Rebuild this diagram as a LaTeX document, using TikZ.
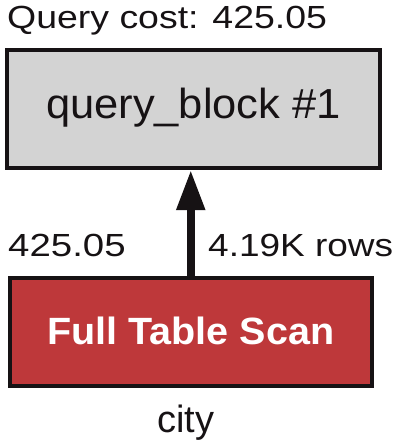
\documentclass[tikz,border=0pt]{standalone}
\usepackage{fontspec}
\setmainfont{Liberation Sans}
\usetikzlibrary{arrows.meta}
\definecolor{boxgray}{RGB}{211,211,211}
\definecolor{scanred}{RGB}{190,56,58}
\definecolor{edgecol}{RGB}{22,18,20}
\tikzset{
  lbl/.style={inner sep=0pt, text=edgecol, font=\fontsize{32}{36}\selectfont},
  blockbox/.style={draw=edgecol, line width=4pt, fill=boxgray, inner sep=0pt,
    minimum width=373pt, minimum height=118pt, text=edgecol,
    font=\fontsize{42}{46}\selectfont, text height=30pt, text depth=12pt},
  scanbox/.style={draw=edgecol, line width=4.5pt, fill=scanred, inner sep=0pt,
    minimum width=362pt, minimum height=108pt, text=white,
    font=\bfseries\fontsize{38}{42}\selectfont, text height=26pt, text depth=2pt},
  flow/.style={edgecol, line width=8pt, -{Triangle[width=27pt,length=40pt]}}
}
\begin{document}
\begin{tikzpicture}[x=1pt,y=-1pt]
\useasboundingbox (0,0) rectangle (400,447);
\node[blockbox] (qb) at (193.5,109) {\scalebox{1.035}[1]{query\_block \#1}};
\node[scanbox] (fts) at (190.75,332) {\scalebox{1.04}[1]{Full Table Scan}};
\node[lbl, anchor=base west] (cost) at (7,28) {\scalebox{1.17}[1]{Query cost: 425.05}};
\node[lbl, anchor=base west] (lcost) at (8,256) {\scalebox{1.2}[1]{425.05}};
\node[lbl, anchor=base west] (rows) at (208,256) {\scalebox{1.156}[1]{4.19K rows}};
\node[lbl, anchor=base, font=\fontsize{38}{42}\selectfont] (tbl) at (186,432) {city};
\draw[flow] (fts.north) -- (fts.north |- qb.south);
\end{tikzpicture}
\end{document}
